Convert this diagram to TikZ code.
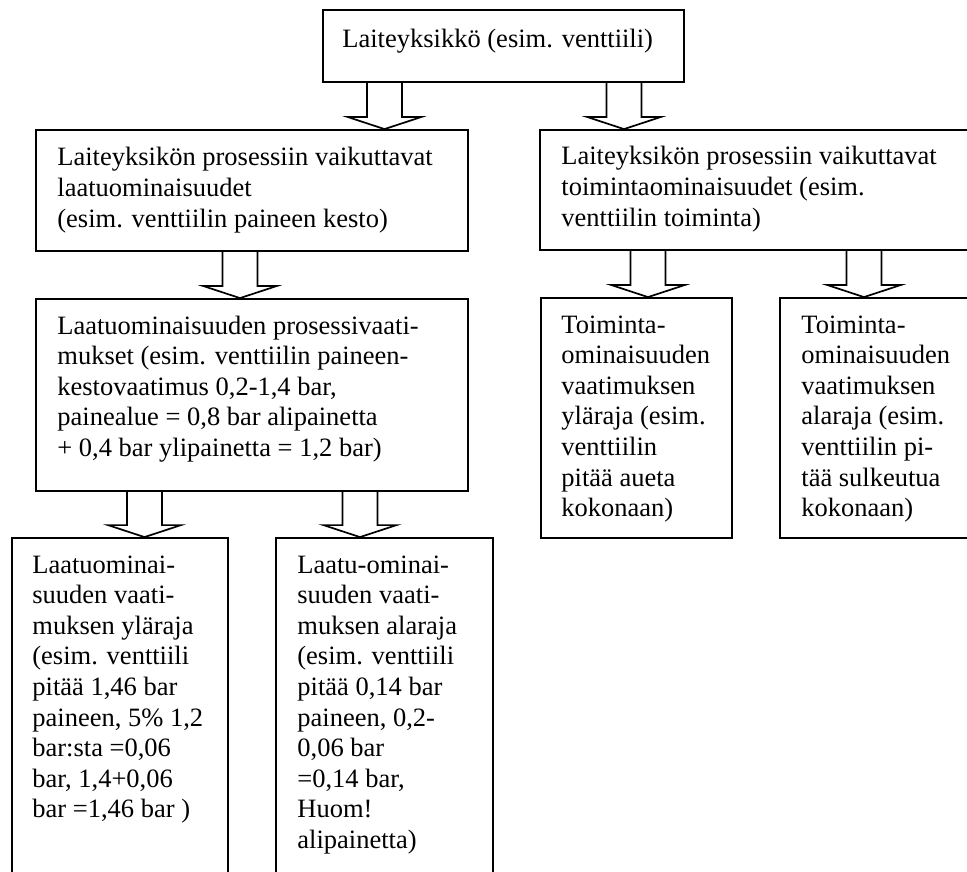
\documentclass[tikz,border=0pt]{standalone}
\usepackage{fontspec}
\setmainfont{Liberation Serif}
\usetikzlibrary{calc,fit}

% Hollow block arrow: #1 = x of its axis, #2 = source box, #3 = target box
\newcommand\blockarrow[3]{%
  \coordinate (ax) at (#1,0);
  \draw[blockarr]
    ($(ax |- #2.south)+(-17.5,0)$) -- ($(ax |- #3.north)+(-17.5,-12)$)
    -- ($(ax |- #3.north)+(-36.5,-12)$) -- (ax |- #3.north)
    -- ($(ax |- #3.north)+(36.5,-12)$) -- ($(ax |- #3.north)+(17.5,-12)$)
    -- ($(ax |- #2.south)+(17.5,0)$);
}
% Left-aligned lines whose baseline is that of the first line
\newcommand\boxlines[1]{\begin{tabular}[t]{@{}l@{}}#1\end{tabular}}

\begin{document}
\begin{tikzpicture}[x=0.5pt,y=-0.5pt,
  box/.style={draw=black, line width=0.9pt, inner sep=0pt, fill=white},
  txt/.style={inner sep=0pt, anchor=base west,
    font=\fontsize{13.25pt}{15.3pt}\selectfont},
  blockarr/.style={draw=black, line width=0.85pt, line join=miter}]
\useasboundingbox (0,0) rectangle (967,871);
\clip (0,0) rectangle (967,871);

% boxes
\node[box, fit={(323,10) (684,82)}] (unit) {};
\node[box, fit={(36,130) (468,251)}] (qual) {};
\node[box, fit={(540,130) (1000,250)}] (func) {};
\node[box, fit={(36,299) (468,491)}] (qreq) {};
\node[box, fit={(541,298) (732,538)}] (fup) {};
\node[box, fit={(780,298) (1000,538)}] (flow) {};
\node[box, fit={(12,538) (228,900)}] (qup) {};
\node[box, fit={(276,538) (493,900)}] (qlow) {};

% texts
\node[txt] (tunit) at (342,48) {Laiteyksikkö (esim. venttiili)};
\node[txt] (tqual) at (57,166) {\boxlines{Laiteyksikön prosessiin vaikuttavat\\laatuominaisuudet\\(esim. venttiilin paineen kesto)}};
\node[txt] (tfunc) at (561,165) {\boxlines{Laiteyksikön prosessiin vaikuttavat\\toimintaominaisuudet (esim.\\venttiilin toiminta)}};
\node[txt] (tqreq) at (57,334) {\boxlines{Laatuominaisuuden prosessivaati-\\mukset (esim. venttiilin paineen-\\kestovaatimus 0,2-1,4 bar,\\painealue = 0,8 bar alipainetta\\+ 0,4 bar ylipainetta = 1,2 bar)}};
\node[txt] (tfup) at (561,333) {\boxlines{Toiminta-\\ominaisuuden\\vaatimuksen\\yläraja (esim.\\venttiilin\\pitää aueta\\kokonaan)}};
\node[txt] (tflow) at (801,333) {\boxlines{Toiminta-\\ominaisuuden\\vaatimuksen\\alaraja (esim.\\venttiilin pi-\\tää sulkeutua\\kokonaan)}};
\node[txt] (tqup) at (32,573) {\boxlines{Laatuominai-\\suuden vaati-\\muksen yläraja\\(esim. venttiili\\pitää 1,46 bar\\paineen, 5\% 1,2\\bar:sta =0,06\\bar, 1,4+0,06\\bar =1,46 bar )}};
\node[txt] (tqlow) at (297,573) {\boxlines{Laatu-ominai-\\suuden vaati-\\muksen alaraja\\(esim. venttiili\\pitää 0,14 bar\\paineen, 0,2-\\0,06 bar\\=0,14 bar,\\Huom!\\alipainetta)}};

% block arrows
\blockarrow{384.5}{unit}{qual}
\blockarrow{624}{unit}{func}
\blockarrow{240}{qual}{qreq}
\blockarrow{648}{func}{fup}
\blockarrow{864}{func}{flow}
\blockarrow{144.5}{qreq}{qup}
\blockarrow{360}{qreq}{qlow}
\end{tikzpicture}
\end{document}
